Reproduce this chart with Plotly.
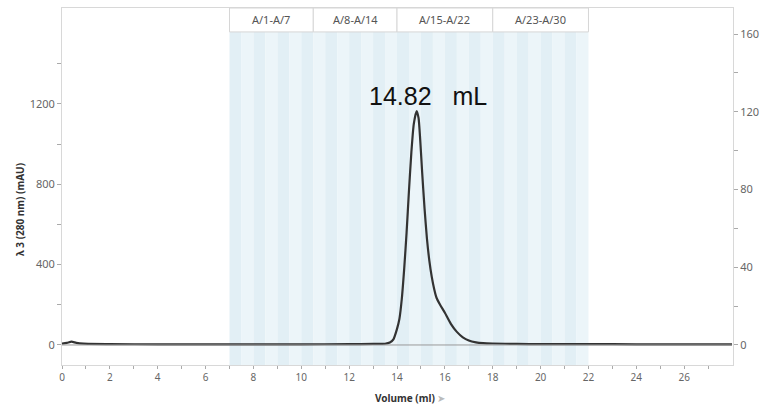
import plotly.graph_objects as go

# ---------------- data ----------------
volume = [0.0, 0.2, 0.4, 0.6, 0.9, 2.0, 4.0, 6.0, 8.0, 10.0, 12.0, 13.0, 13.5, 13.7,
          13.85, 14.0, 14.1, 14.2, 14.3, 14.4, 14.5, 14.6, 14.7, 14.82, 14.9, 14.97,
          15.05, 15.15, 15.25, 15.35, 15.45, 15.55, 15.65, 15.8, 16.0, 16.25, 16.5,
          16.75, 17.0, 17.3, 17.6, 18.0, 19.0, 20.0, 22.0, 24.0, 26.0, 28.0]
absorbance = [6, 10, 16, 10, 6, 4, 3, 3, 3, 3, 4, 5, 6, 12,
              28, 80, 130, 230, 380, 560, 770, 960, 1100, 1165, 1130, 1020,
              860, 680, 530, 420, 340, 280, 235, 200, 160, 105, 65,
              38, 22, 13, 9, 7, 5, 4, 4, 3, 3, 3]

baseline_volume = [0.0, 28.0]
baseline_value = [0, 0]

group_labels = ["A/1-A/7", "A/8-A/14", "A/15-A/22", "A/23-A/30"]
group_start = [7.0, 10.5, 14.0, 18.0]
group_end = [10.5, 14.0, 18.0, 22.0]

fraction_edges = [7.0, 7.5, 8.0, 8.5, 9.0, 9.5, 10.0, 10.5, 11.0, 11.5, 12.0, 12.5,
                  13.0, 13.5, 14.0, 14.5, 15.0, 15.5, 16.0, 16.5, 17.0, 17.5, 18.0,
                  18.5, 19.0, 19.5, 20.0, 20.5, 21.0, 21.5, 22.0]

peak_label = "14.82   mL"
peak_volume = 14.82

x_tickvals = list(range(0, 28))
x_ticktext = [str(v) if v % 2 == 0 else "" for v in x_tickvals]
y_tickvals = list(range(0, 1401, 200))
y_ticktext = [str(v) if v % 400 == 0 else "" for v in y_tickvals]
y2_tickvals = list(range(0, 161, 20))
y2_ticktext = [str(v) if v % 40 == 0 else "" for v in y2_tickvals]

# ---------------- figure ----------------
fig = go.Figure()

fig.add_trace(go.Scatter(x=baseline_volume, y=baseline_value, yaxis="y2",
                         mode="lines", line=dict(color="#9a9a9a", width=1),
                         hoverinfo="skip", showlegend=False))
fig.add_trace(go.Scatter(x=volume, y=absorbance, mode="lines",
                         line=dict(color="#333333", width=2.2, shape="spline", smoothing=0.6),
                         showlegend=False))

shapes = []
band_colors = ["#e2eff5", "#ecf5f9"]
for i in range(len(fraction_edges) - 1):
    shapes.append(dict(type="rect", xref="x", yref="paper",
                       x0=fraction_edges[i], x1=fraction_edges[i + 1],
                       y0=0, y1=0.933, fillcolor=band_colors[i % 2],
                       line=dict(width=0), layer="below"))
for s, e in zip(group_start, group_end):
    shapes.append(dict(type="rect", xref="x", yref="paper", x0=s, x1=e,
                       y0=0.933, y1=1.0, fillcolor="white",
                       line=dict(color="#d6d6d6", width=1), layer="above"))

annotations = []
for lab, s, e in zip(group_labels, group_start, group_end):
    annotations.append(dict(x=(s + e) / 2, y=0.9665, xref="x", yref="paper",
                            xanchor="center", yanchor="middle",
                            text=lab, showarrow=False,
                            font=dict(family="Noto Sans", size=11, color="#555555")))
annotations.append(dict(x=peak_volume + 0.47, y=1240, xref="x", yref="y",
                        xanchor="center", yanchor="middle",
                        text=peak_label, showarrow=False,
                        font=dict(family="Liberation Sans", size=25, color="#111111")))
annotations.append(dict(x=-0.0626, y=0.437, xref="paper", yref="paper",
                        xanchor="center", yanchor="middle",
                        text="<b>λ 3 (280 nm) (mAU)</b>", textangle=-90,
                        showarrow=False,
                        font=dict(family="Noto Sans", size=10, color="#333333")))
annotations.append(dict(x=0.518, y=-0.0924, xref="paper", yref="paper",
                        xanchor="center", yanchor="middle",
                        text="<b>Volume (ml)</b> <span style='color:#bbbbbb'>➤</span>",
                        showarrow=False,
                        font=dict(family="Noto Sans", size=10, color="#333333")))

axis_font = dict(family="Noto Sans", size=11, color="#666666")

fig.update_layout(
    width=762, height=412,
    margin=dict(l=62, r=29, t=8, b=47),
    paper_bgcolor="white", plot_bgcolor="white",
    shapes=shapes, annotations=annotations,
    xaxis=dict(range=[0, 28.04], tickvals=x_tickvals, ticktext=x_ticktext,
               showgrid=False, zeroline=False, showline=True, linecolor="#d8d8d8",
               linewidth=1, mirror=True, ticks="outside", ticklen=3,
               tickcolor="#aaaaaa",
               tickfont=dict(family="Noto Sans", size=10, color="#666666"),
               automargin=False),
    yaxis=dict(range=[-100, 1678], tickvals=y_tickvals, ticktext=y_ticktext,
               showgrid=False, zeroline=False, showline=True, linecolor="#d8d8d8",
               linewidth=1, ticks="outside", ticklen=4, tickcolor="#aaaaaa",
               tickfont=axis_font, automargin=False),
    yaxis2=dict(range=[-10.3, 173.4], tickvals=y2_tickvals, ticktext=y2_ticktext,
                overlaying="y", side="right", showgrid=False, zeroline=False,
                showline=True, linecolor="#d8d8d8", linewidth=1, ticks="outside",
                ticklen=4, tickcolor="#aaaaaa", tickfont=axis_font, automargin=False),
)

# remove the default 8px page margin so the figure fills the window exactly
fig.write_html("out.html", config={"displayModeBar": False},
               post_script="document.body.style.margin='0';document.body.style.overflow='hidden';")
